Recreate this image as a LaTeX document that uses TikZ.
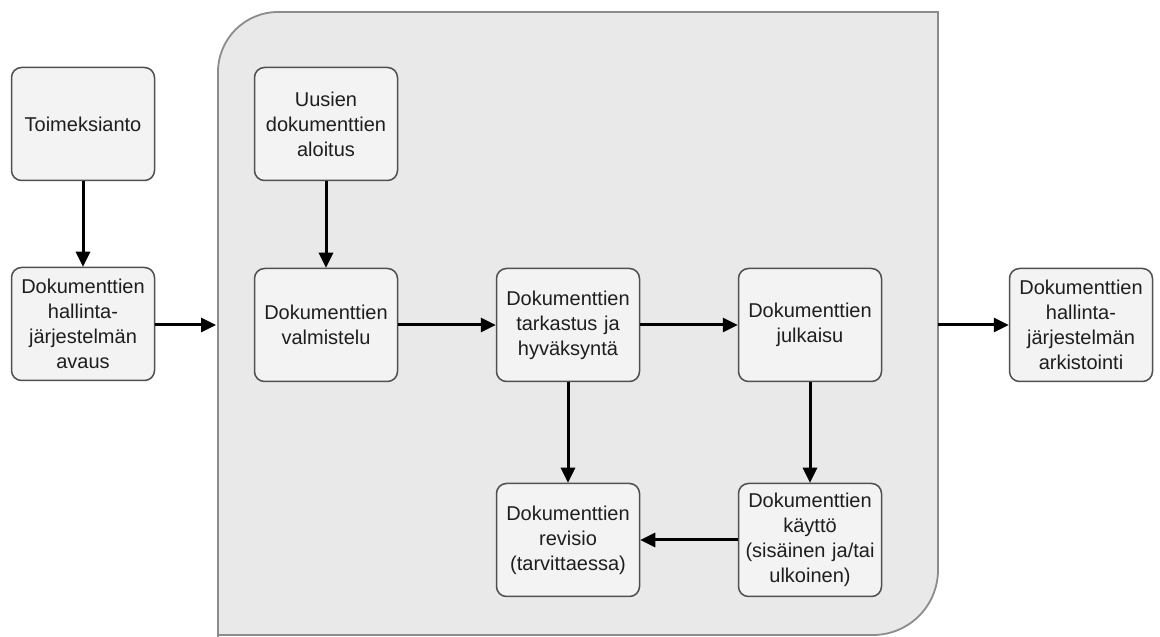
\documentclass[tikz,border=0pt]{standalone}
\usepackage{fontspec}
\setmainfont{Liberation Sans}
\usetikzlibrary{arrows.meta}
\definecolor{boxfill}{HTML}{F3F3F3}
\definecolor{boxline}{HTML}{505050}
\definecolor{contfill}{HTML}{E9E9E9}
\definecolor{contline}{HTML}{8C8C8C}
\definecolor{txt}{HTML}{1E1E1E}
\tikzset{
  stepbox/.style={draw=boxline, fill=boxfill, line width=1.5pt, rounded corners=10pt,
    minimum width=143pt, minimum height=113pt, text width=140pt, align=center, inner sep=0pt,
    text=txt, font=\fontsize{20}{25}\selectfont},
  flow/.style={line width=3pt, -{Triangle[length=15pt,width=14pt]}}
}
\begin{document}
\begin{tikzpicture}[x=1pt,y=1pt]
\useasboundingbox (0,0) rectangle (1160,637);
% container
\draw[fill=contfill, draw=contline, line width=1.8pt]
  (218,-2) -- (218,565) arc[start angle=180,end angle=90,radius=60]
  -- (938,625) -- (938,67) arc[start angle=0,end angle=-90,radius=65]
  -- (218,2);
% nodes
\node[stepbox] (toim) at (83,513) {Toimeksianto};
\node[stepbox] (avaus) at (83,313) {Dokumenttien\\hallinta-\\järjestelmän\\avaus};
\node[stepbox] (uusi) at (326,513) {Uusien\\dokumenttien\\aloitus};
\node[stepbox] (valm) at (326,312) {Dokumenttien\\valmistelu};
\node[stepbox] (tark) at (568,312) {Dokumenttien\\tarkastus ja\\hyväksyntä};
\node[stepbox] (julk) at (810,312) {Dokumenttien\\julkaisu};
\node[stepbox] (rev) at (568,97) {Dokumenttien\\revisio\\(tarvittaessa)};
\node[stepbox] (kay) at (810,97) {Dokumenttien\\käyttö\\(sisäinen ja/tai\\ulkoinen)};
\node[stepbox] (ark) at (1081,312) {Dokumenttien\\hallinta-\\järjestelmän\\arkistointi};
\coordinate (cin) at (216,312);
\coordinate (cout) at (938,312);
% connectors
\draw[flow] (toim) -- (avaus);
\draw[flow] (avaus.east |- 0,312) -- (cin);
\draw[flow] (uusi) -- (valm);
\draw[flow] (valm) -- (tark);
\draw[flow] (tark) -- (julk);
\draw[flow] (tark) -- (rev);
\draw[flow] (julk) -- (kay);
\draw[flow] (kay) -- (rev);
\draw[flow] (cout) -- (ark);
\end{tikzpicture}
\end{document}
